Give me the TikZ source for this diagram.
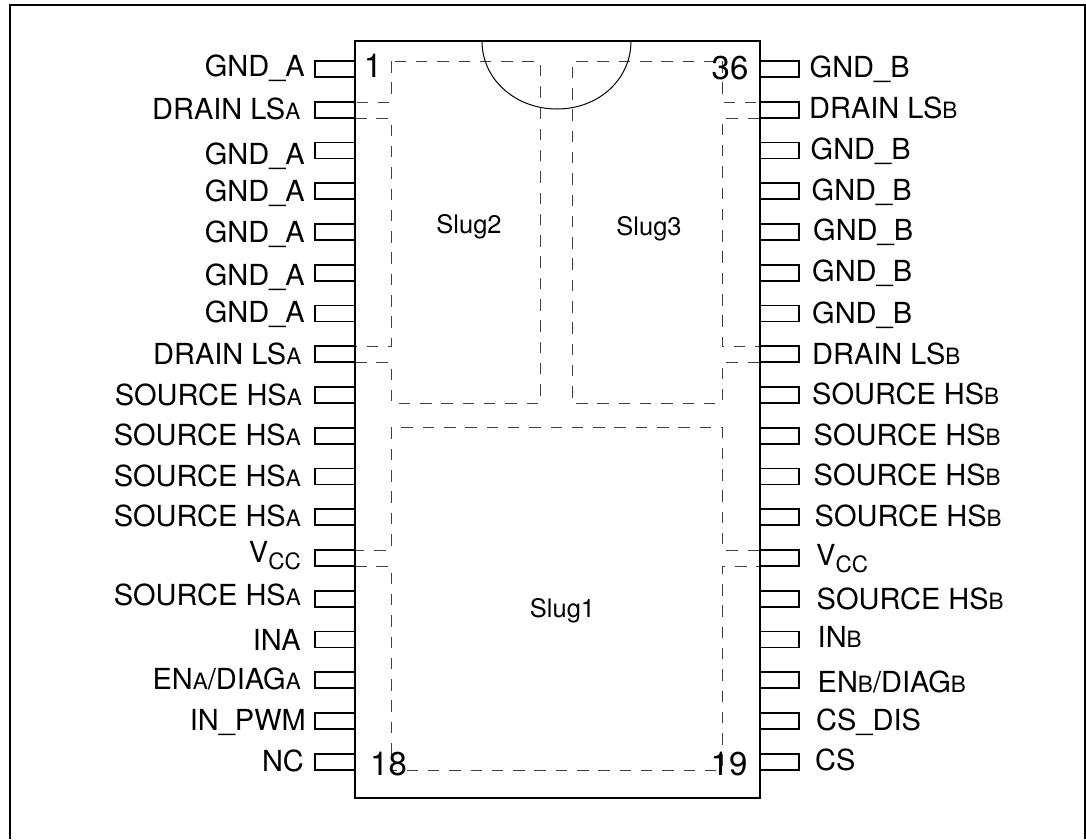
\documentclass[tikz,border=0pt]{standalone}
\usepackage{fontspec}
\setmainfont{TeX Gyre Heros}
\newcommand*{\lowcap}[1]{{\fontsize{22.5}{22.5}\selectfont #1}}
\newcommand*{\vcc}{V\raisebox{-7pt}{\lowcap{CC}}}
\tikzset{
  pinline/.style={line width=1.8pt},
  slugline/.style={line width=0.8pt,black!75,dash pattern=on 11.5pt off 9.8pt},
  pinleft/.style={anchor=base east,inner sep=0pt,font=\fontsize{29}{31}\selectfont},
  pinright/.style={anchor=base west,inner sep=0pt,font=\fontsize{29}{31}\selectfont},
  pinno/.style={anchor=base,inner sep=0pt,font=\fontsize{33}{35}\selectfont},
  slugname/.style={anchor=base,inner sep=0pt,font=\fontsize{25.5}{27}\selectfont}
}
\begin{document}
\begin{tikzpicture}[x=1pt,y=-1pt]
\useasboundingbox (0,0) rectangle (1086,839);
\draw[line width=2pt] (9.5,839) -- (9.5,5) -- (1085,5) -- (1085,839);
%%%%%%%%%%%%%%%%%%%%%%%%%%%%%%
\foreach \i in {0,...,17}{
  \draw[pinline] (355,{61+40.75*\i}) -- (315,{61+40.75*\i}) -- (315,{77+40.75*\i}) -- (355,{77+40.75*\i});
  \draw[pinline] (759,{61+40.75*\i}) -- (799,{61+40.75*\i}) -- (799,{77+40.75*\i}) -- (759,{77+40.75*\i});
}
\draw[slugline] (391,61) -- (391,102) -- (355,102);
\draw[slugline] (355,118) -- (391,118) -- (391,346) -- (355,346);
\draw[slugline] (355,362) -- (391,362) -- (391,403.5) -- (540,403.5) -- (540,61) -- (391,61);
\draw[slugline] (722,61) -- (722,102) -- (759,102);
\draw[slugline] (759,118) -- (722,118) -- (722,346) -- (759,346);
\draw[slugline] (759,362) -- (722,362) -- (722,403.5) -- (572,403.5) -- (572,61) -- (722,61);
\draw[slugline] (391,427.5) -- (391,550) -- (355,550);
\draw[slugline] (355,566) -- (391,566) -- (391,770) -- (722,770) -- (722,566) -- (759,566);
\draw[slugline] (759,550) -- (722,550) -- (722,427.5) -- (391,427.5);
\draw[line width=2pt] (355,41) rectangle (759.5,797.5);
\draw[line width=1pt] (482,41) .. controls (482,80) and (516,109) .. (557,109) .. controls (598,109) and (631,80) .. (631,41);
%%%%%%%%%%%%%%%%%%%%%%%%%%%%%%
\node[pinleft] (L1) at (305,76) {GND\_A};
\node[pinleft] (L2) at (300.5,119) {DRAIN LS\lowcap{A}};
\node[pinleft] (L3) at (305,164) {GND\_A};
\node[pinleft] (L4) at (305,201) {GND\_A};
\node[pinleft] (L5) at (305,242) {GND\_A};
\node[pinleft] (L6) at (305,285) {GND\_A};
\node[pinleft] (L7) at (305,322.5) {GND\_A};
\node[pinleft] (L8) at (301.5,364) {DRAIN LS\lowcap{A}};
\node[pinleft] (L9) at (302,405.5) {SOURCE HS\lowcap{A}};
\node[pinleft] (L10) at (301,445.5) {SOURCE HS\lowcap{A}};
\node[pinleft] (L11) at (301,486.5) {SOURCE HS\lowcap{A}};
\node[pinleft] (L12) at (301,526.5) {SOURCE HS\lowcap{A}};
\node[pinleft] (L13) at (301,562) {\vcc};
\node[pinleft] (L14) at (301,605) {SOURCE HS\lowcap{A}};
\node[pinleft] (L15) at (301,650.5) {INA};
\node[pinleft] (L16) at (301,689) {EN\lowcap{A}/DIAG\lowcap{A}};
\node[pinleft] (L17) at (306,730) {IN\_PWM};
\node[pinleft] (L18) at (304,771) {NC};
\node[pinright] (R1) at (809.5,77) {GND\_B};
\node[pinright] (R2) at (809,118) {DRAIN LS\lowcap{B}};
\node[pinright] (R3) at (810.5,159) {GND\_B};
\node[pinright] (R4) at (811.5,200.5) {GND\_B};
\node[pinright] (R5) at (813,240.5) {GND\_B};
\node[pinright] (R6) at (812,281.5) {GND\_B};
\node[pinright] (R7) at (812,323) {GND\_B};
\node[pinright] (R8) at (812,364) {DRAIN LS\lowcap{B}};
\node[pinright] (R9) at (812,404) {SOURCE HS\lowcap{B}};
\node[pinright] (R10) at (813.5,445) {SOURCE HS\lowcap{B}};
\node[pinright] (R11) at (813.5,485) {SOURCE HS\lowcap{B}};
\node[pinright] (R12) at (814.5,526.5) {SOURCE HS\lowcap{B}};
\node[pinright] (R13) at (816,565) {\vcc};
\node[pinright] (R14) at (816.5,609) {SOURCE HS\lowcap{B}};
\node[pinright] (R15) at (817.5,647) {IN\lowcap{B}};
\node[pinright] (R16) at (817.5,692) {EN\lowcap{B}/DIAG\lowcap{B}};
\node[pinright] (R17) at (816,730.5) {CS\_DIS};
\node[pinright] (R18) at (815,770.5) {CS};
%%%%%%%%%%%%%%%%%%%%%%%%%%%%%%
\node[pinno] (no1) at (373,77) {1};
\node[pinno] (no36) at (730,79) {36};
\node[pinno] (no18) at (388.5,775) {18};
\node[pinno] (no19) at (729,775) {19};
\node[slugname] (slug2) at (469,233) {Slug2};
\node[slugname] (slug3) at (649,235) {Slug3};
\node[slugname] (slug1) at (562.5,617) {Slug1};
\end{tikzpicture}
\end{document}
